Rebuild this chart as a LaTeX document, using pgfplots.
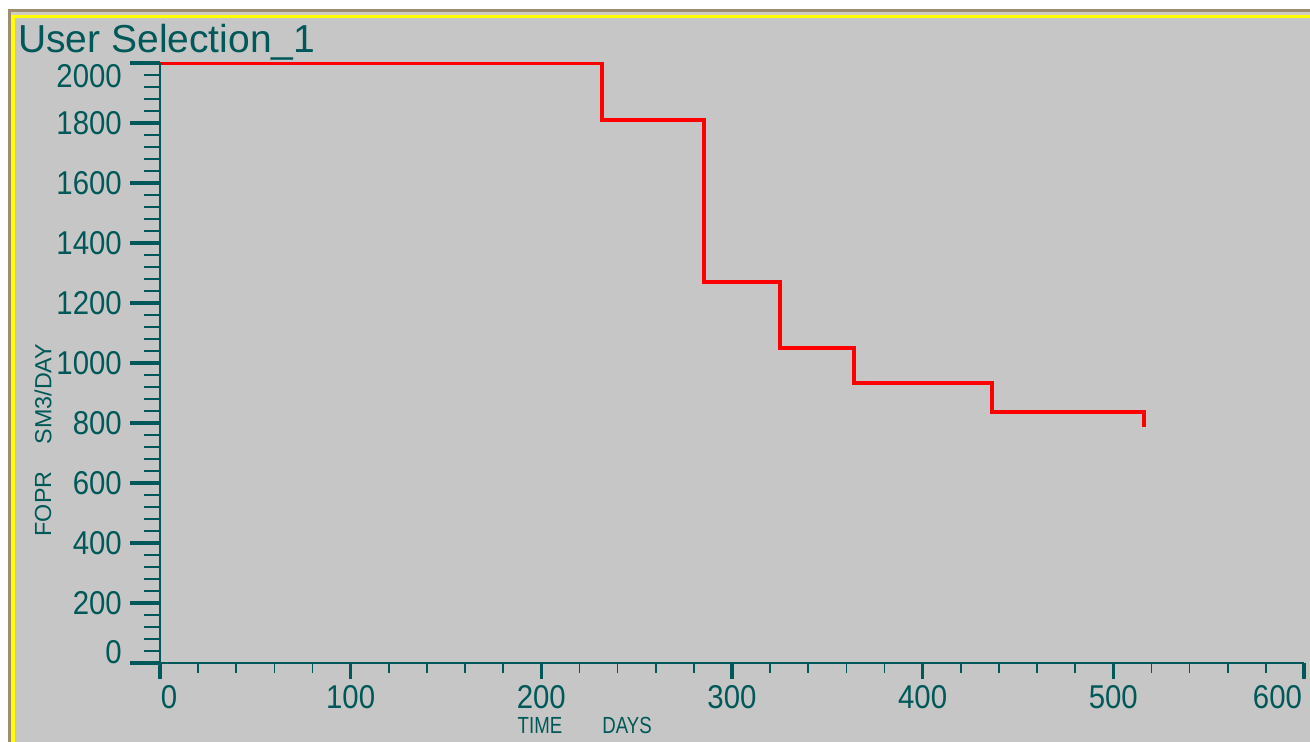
\documentclass[border=0pt]{standalone}
\usepackage{pgfplots}
\pgfplotsset{compat=1.18}
\usepackage{fontspec}
\setmainfont{Liberation Sans}
\newfontfamily\tickfont{Liberation Sans}[FakeStretch=0.89]
\newfontfamily\unitfont{Liberation Sans}[FakeStretch=0.8]
\definecolor{panel}{RGB}{198,198,198}
\definecolor{ink}{RGB}{0,88,88}
\definecolor{rim}{RGB}{156,140,112}
\definecolor{rimlight}{RGB}{210,205,195}
\definecolor{glow}{RGB}{255,255,0}

\begin{document}
\begin{tikzpicture}[x=1pt,y=1pt]
\useasboundingbox (0,0) rectangle (1310,742);
% window frame and panel
\fill[white] (0,0) rectangle (1310,742);
\fill[rim] (8,0) rectangle (1310,733);
\fill[rimlight] (11,0) rectangle (1310,730);
\fill[glow] (11,0) rectangle (1310,727);
\fill[panel] (15,0) rectangle (1310,724);

% time axis and the rate curve (clipped to the plot area, so the 2000 level shows half its width)
\begin{axis}[
  at={(160pt,79pt)}, anchor=south west,
  scale only axis, width=1144pt, height=600pt,
  xmin=0, xmax=600, ymin=0, ymax=2000, enlargelimits=false,
  clip=true, clip mode=global,
  axis x line=bottom, axis y line=none,
  axis line style={-, ink, line width=1.8pt},
  xtick={0,100,...,600}, minor x tick num=4,
  tick align=outside, major tick length=16pt, minor tick length=10pt,
  major tick style={ink, line width=3.3pt},
  minor tick style={ink, line width=1.7pt},
  xticklabels={\hspace*{18pt}0,100,200,300,400,500,600\hspace*{53pt}},
  xticklabel style={font=\tickfont\fontsize{33}{36}\selectfont, text=ink,
    anchor=north, inner sep=0pt},
  xticklabel shift=6pt,
]
\addplot[const plot, color=red, line width=4pt, line join=miter] coordinates {
  (0,2000) (232,1811) (285.5,1271) (325,1050) (364,932) (436.5,837) (516,837) (516,787)
};
\end{axis}

% rate axis
\begin{axis}[
  at={(160pt,79pt)}, anchor=south west,
  scale only axis, width=1144pt, height=600pt,
  xmin=0, xmax=600, ymin=0, ymax=2000, enlargelimits=false,
  axis y line=left, axis x line=none,
  axis line style={-, ink, line width=2pt},
  ytick={0,200,...,2000}, minor y tick num=4,
  tick align=outside, major tick length=30pt, minor tick length=16pt,
  major tick style={ink, line width=3.3pt},
  minor tick style={ink, line width=1.7pt},
  yticklabels={\raisebox{11pt}[\height][\depth]{0},200,400,600,800,1000,1200,1400,1600,1800,\raisebox{-13pt}[\height][\depth]{2000}},
  yticklabel style={font=\tickfont\fontsize{33}{36}\selectfont, text=ink,
    anchor=east, inner sep=0pt},
  yticklabel shift=8pt,
]
\end{axis}

\node[anchor=base west, text=ink, inner sep=0pt, font=\fontsize{39}{44}\selectfont] at (18,689) {User Selection\_1};
\node[anchor=base, text=ink, inner sep=0pt, font=\unitfont\fontsize{23.3}{26}\selectfont] at (540,9) {TIME};
\node[anchor=base, text=ink, inner sep=0pt, font=\unitfont\fontsize{23.3}{26}\selectfont] at (627,9) {DAYS};
\node[rotate=90, text=ink, inner sep=0pt, font=\fontsize{23.3}{26}\selectfont] at (43,348) {SM3/DAY};
\node[rotate=90, text=ink, inner sep=0pt, font=\fontsize{23.3}{26}\selectfont] at (43,238) {FOPR};
\end{tikzpicture}
\end{document}
